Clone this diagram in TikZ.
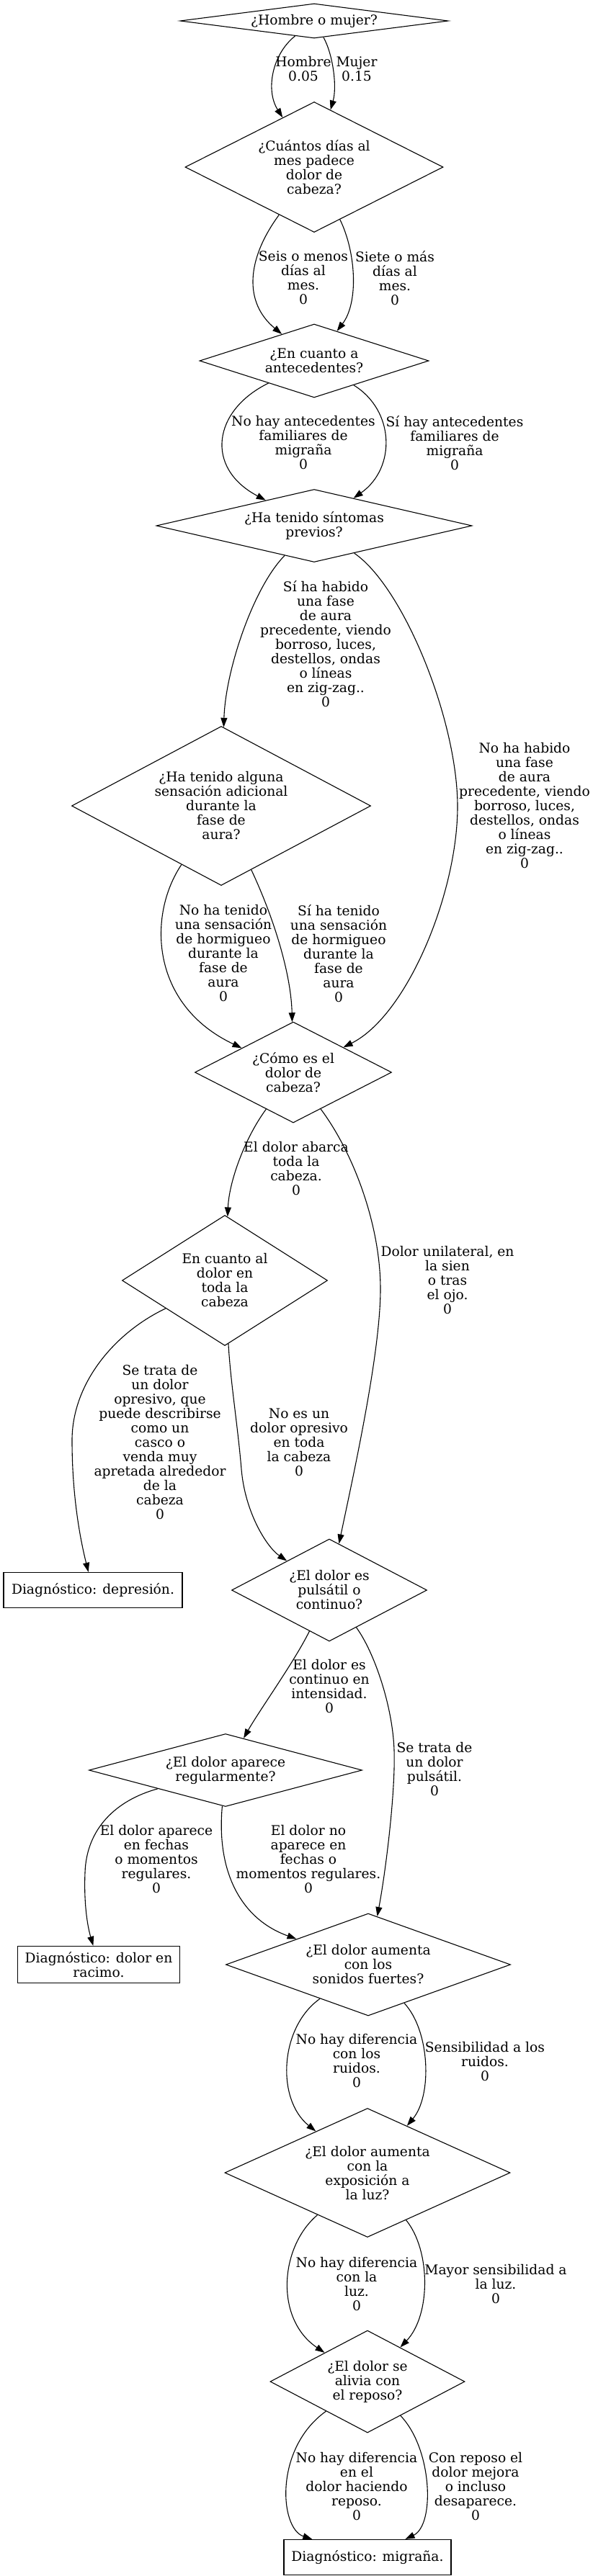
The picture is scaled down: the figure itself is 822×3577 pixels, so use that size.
\documentclass[tikz,border=0pt]{standalone}
\usepackage{fontspec}
\setmainfont{DejaVu Serif}
\usetikzlibrary{arrows.meta,shapes.geometric}
\newcommand\lbfont{\fontsize{18.67}{20}\selectfont}
\begin{document}
\begin{tikzpicture}[x=1pt,y=-1pt,
  dia/.style={draw, shape=diamond, inner sep=0pt, line width=1.1pt},
  resbox/.style={draw, rectangle, inner sep=0pt, line width=1.3pt, align=center, font=\lbfont},
  txt/.style={align=center, inner sep=0pt, font=\lbfont},
  elbl/.style={align=center, inner sep=0pt, font=\lbfont},
  conn/.style={line width=1.1pt, -{Triangle[length=13pt,width=9pt]}},
]
\fill[white] (0,0) rectangle (822,3577);
\useasboundingbox (0,0) rectangle (822,3577);

% decision nodes
\node[dia, minimum width=372pt, minimum height=48pt] (n1) at (436,29) {};
\node[txt] (t1) at (n1) {¿Hombre o mujer?};
\node[dia, minimum width=358pt, minimum height=181pt] (n2) at (436,232) {};
\node[txt] (t2) at (n2) {¿Cuántos días al\\mes padece\\dolor de\\cabeza?};
\node[dia, minimum width=318pt, minimum height=102pt] (n3) at (436,501) {};
\node[txt] (t3) at (n3) {¿En cuanto a\\antecedentes?};
\node[dia, minimum width=438pt, minimum height=101pt] (n4) at (436,730) {};
\node[txt] (t4) at (n4) {¿Ha tenido síntomas\\previos?};
\node[dia, minimum width=415pt, minimum height=221pt] (n5) at (307,1119) {};
\node[txt] (t5) at (n5) {¿Ha tenido alguna\\sensación adicional\\durante la\\fase de\\aura?};
\node[dia, minimum width=273pt, minimum height=140pt] (n6) at (407,1489) {};
\node[txt] (t6) at (n6) {¿Cómo es el\\dolor de\\cabeza?};
\node[dia, minimum width=285pt, minimum height=181pt] (n7) at (312,1778) {};
\node[txt] (t7) at (n7) {En cuanto al\\dolor en\\toda la\\cabeza};
\node[resbox, minimum width=248pt, minimum height=49pt] (n8) at (129,2208) {Diagnóstico: depresión.};
\node[dia, minimum width=271pt, minimum height=142pt] (n9) at (457,2208) {};
\node[txt] (t9) at (n9) {¿El dolor es\\pulsátil o\\continuo?};
\node[dia, minimum width=379pt, minimum height=101pt] (n10) at (313,2458) {};
\node[txt] (t10) at (n10) {¿El dolor aparece\\regularmente?};
\node[resbox, minimum width=225pt, minimum height=51pt] (n11) at (137,2728) {Diagnóstico: dolor en\\racimo.};
\node[dia, minimum width=395pt, minimum height=142pt] (n12) at (511,2728) {};
\node[txt] (t12) at (n12) {¿El dolor aumenta\\con los\\sonidos fuertes?};
\node[dia, minimum width=396pt, minimum height=179pt] (n13) at (510,3017) {};
\node[txt] (t13) at (n13) {¿El dolor aumenta\\con la\\exposición a\\la luz?};
\node[dia, minimum width=270pt, minimum height=142pt] (n14) at (510,3307) {};
\node[txt] (t14) at (n14) {¿El dolor se\\alivia con\\el reposo?};
\node[resbox, minimum width=232pt, minimum height=49pt] (n15) at (510,3551) {Diagnóstico: migraña.};

% connectors
\draw[conn] (n1) .. controls (378,75) and (368,125) .. (n2);
\draw[conn] (n1) .. controls (462,75) and (468,120) .. (n2);
\draw[conn] (n2) .. controls (342,360) and (338,420) .. (n3);
\draw[conn] (n2) .. controls (494,350) and (498,420) .. (n3);
\draw[conn] (n3) .. controls (295,570) and (284,650) .. (n4);
\draw[conn] (n3) .. controls (548,570) and (550,650) .. (n4);
\draw[conn] (n4) .. controls (352,815) and (313,930) .. (n5);
\draw[conn] (n4) .. controls (560,815) and (635,1000) .. (635,1120) .. controls (635,1240) and (565,1410) .. (n6);
\draw[conn] (n5) .. controls (205,1270) and (208,1395) .. (n6);
\draw[conn] (n5) .. controls (378,1270) and (404,1350) .. (n6);
\draw[conn] (n6) .. controls (340,1580) and (318,1640) .. (n7);
\draw[conn] (n6) .. controls (490,1600) and (528,1700) .. (528,1790) .. controls (528,1880) and (490,2050) .. (n9);
\draw[conn] (n7) .. controls (160,1850) and (100,1920) .. (100,2000) .. controls (100,2080) and (112,2140) .. (n8);
\draw[conn] (n7) .. controls (320,1920) and (330,1980) .. (335,2040) .. controls (340,2100) and (370,2148) .. (n9);
\draw[conn] (n9) .. controls (410,2305) and (360,2375) .. (n10);
\draw[conn] (n9) .. controls (520,2295) and (545,2370) .. (547,2430) .. controls (549,2490) and (535,2600) .. (n12);
\draw[conn] (n10) .. controls (160,2500) and (120,2540) .. (118,2600) .. controls (116,2650) and (123,2680) .. (n11);
\draw[conn] (n10) .. controls (300,2600) and (335,2665) .. (n12);
\draw[conn] (n12) .. controls (388,2815) and (383,2915) .. (n13);
\draw[conn] (n12) .. controls (597,2820) and (600,2910) .. (n13);
\draw[conn] (n13) .. controls (388,3120) and (381,3220) .. (n14);
\draw[conn] (n13) .. controls (598,3125) and (598,3215) .. (n14);
\draw[conn] (n14) .. controls (380,3400) and (388,3511) .. (n15);
\draw[conn] (n14) .. controls (600,3400) and (604,3506) .. (n15);

% edge labels
\node[elbl] (l1) at (421,96) {Hombre\\0.05};
\node[elbl] (l2) at (495,96) {Mujer\\0.15};
\node[elbl] (l3) at (421,386) {Seis o menos\\días al\\mes.\\0};
\node[elbl] (l4) at (548,386) {Siete o más\\días al\\mes.\\0};
\node[elbl] (l5) at (421,615) {No hay antecedentes\\familiares de\\migraña\\0};
\node[elbl] (l6) at (631,615) {Sí hay antecedentes\\familiares de\\migraña\\0};
\node[elbl] (l7) at (452,894) {Sí ha habido\\una fase\\de aura\\precedente, viendo\\borroso, luces,\\destellos, ondas\\o líneas\\en zig-zag..\\0};
\node[elbl] (l8) at (728,1119) {No ha habido\\una fase\\de aura\\precedente, viendo\\borroso, luces,\\destellos, ondas\\o líneas\\en zig-zag..\\0};
\node[elbl] (l9) at (310,1324) {No ha tenido\\una sensación\\de hormigueo\\durante la\\fase de\\aura\\0};
\node[elbl] (l10) at (470,1324) {Sí ha tenido\\una sensación\\de hormigueo\\durante la\\fase de\\aura\\0};
\node[elbl] (l11) at (411,1623) {El dolor abarca\\toda la\\cabeza.\\0};
\node[elbl] (l12) at (621,1778) {Dolor unilateral, en\\la sien\\o tras\\el ojo.\\0};
\node[elbl] (l13) at (222,2003) {Se trata de\\un dolor\\opresivo, que\\puede describirse\\como un\\casco o\\venda muy\\apretada alrededor\\de la\\cabeza\\0};
\node[elbl] (l14) at (415,2003) {No es un\\dolor opresivo\\en toda\\la cabeza\\0};
\node[elbl] (l15) at (457,2342) {El dolor es\\continuo en\\intensidad.\\0};
\node[elbl] (l16) at (603,2457) {Se trata de\\un dolor\\pulsátil.\\0};
\node[elbl] (l17) at (217,2582) {El dolor aparece\\en fechas\\o momentos\\regulares.\\0};
\node[elbl] (l18) at (428,2582) {El dolor no\\aparece en\\fechas o\\momentos regulares.\\0};
\node[elbl] (l19) at (495,2862) {No hay diferencia\\con los\\ruidos.\\0};
\node[elbl] (l20) at (673,2863) {Sensibilidad a los\\ruidos.\\0};
\node[elbl] (l21) at (495,3171) {No hay diferencia\\con la\\luz.\\0};
\node[elbl] (l22) at (688,3171) {Mayor sensibilidad a\\la luz.\\0};
\node[elbl] (l23) at (495,3452) {No hay diferencia\\en el\\dolor haciendo\\reposo.\\0};
\node[elbl] (l24) at (660,3452) {Con reposo el\\dolor mejora\\o incluso\\desaparece.\\0};
\end{tikzpicture}
\end{document}
